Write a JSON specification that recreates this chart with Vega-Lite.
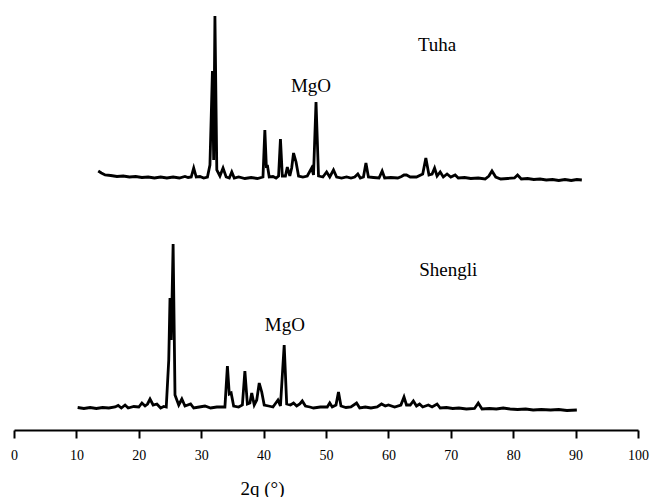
{
  "$schema": "https://vega.github.io/schema/vega-lite/v6.json",
  "width": 624,
  "height": 430,
  "autosize": {"type": "none"},
  "padding": {"left": 14, "top": 0, "right": 15, "bottom": 67},
  "background": "white",
  "config": {"view": {"stroke": null}},
  "layer": [
    {
      "data": {"values": [
        {"s":"Tuha","t":13.5,"v":259},{"s":"Tuha","t":14.0,"v":257},{"s":"Tuha","t":14.6,"v":255},{"s":"Tuha","t":15.5,"v":254.5},{"s":"Tuha","t":16.5,"v":253.5},{"s":"Tuha","t":17.5,"v":254},{"s":"Tuha","t":18.5,"v":253},{"s":"Tuha","t":19.5,"v":253.5},{"s":"Tuha","t":20.5,"v":252.5},{"s":"Tuha","t":21.5,"v":253},{"s":"Tuha","t":22.5,"v":252},{"s":"Tuha","t":23.5,"v":253},{"s":"Tuha","t":24.5,"v":252},{"s":"Tuha","t":25.5,"v":253},{"s":"Tuha","t":26.5,"v":252},{"s":"Tuha","t":27.4,"v":253.5},{"s":"Tuha","t":27.9,"v":252.5},
        {"s":"Tuha","t":28.4,"v":253},{"s":"Tuha","t":28.8,"v":262},{"s":"Tuha","t":29.2,"v":253},{"s":"Tuha","t":29.8,"v":253.5},{"s":"Tuha","t":30.4,"v":252},{"s":"Tuha","t":31.0,"v":253},{"s":"Tuha","t":31.4,"v":265},{"s":"Tuha","t":31.8,"v":359},{"s":"Tuha","t":32.0,"v":270},{"s":"Tuha","t":32.2,"v":414},{"s":"Tuha","t":32.5,"v":260},{"s":"Tuha","t":33.0,"v":254},{"s":"Tuha","t":33.5,"v":262},{"s":"Tuha","t":34.0,"v":253},{"s":"Tuha","t":34.5,"v":252},{"s":"Tuha","t":34.9,"v":258},{"s":"Tuha","t":35.3,"v":252},{"s":"Tuha","t":36.0,"v":253},{"s":"Tuha","t":37,"v":251.5},{"s":"Tuha","t":38.0,"v":252.5},{"s":"Tuha","t":39.0,"v":251.5},
        {"s":"Tuha","t":39.9,"v":253},{"s":"Tuha","t":40.2,"v":300},{"s":"Tuha","t":40.45,"v":262},{"s":"Tuha","t":40.6,"v":265},{"s":"Tuha","t":40.9,"v":253},{"s":"Tuha","t":41.5,"v":253.5},{"s":"Tuha","t":42.0,"v":252},{"s":"Tuha","t":42.4,"v":254},{"s":"Tuha","t":42.7,"v":291},{"s":"Tuha","t":43.0,"v":254},{"s":"Tuha","t":43.5,"v":254},{"s":"Tuha","t":43.8,"v":263},{"s":"Tuha","t":44.2,"v":254},{"s":"Tuha","t":44.5,"v":262},{"s":"Tuha","t":44.8,"v":277},{"s":"Tuha","t":45.2,"v":268},{"s":"Tuha","t":45.6,"v":254},{"s":"Tuha","t":46.3,"v":253},{"s":"Tuha","t":47.0,"v":254},{"s":"Tuha","t":47.7,"v":262},{"s":"Tuha","t":48.0,"v":255},{"s":"Tuha","t":48.4,"v":328},{"s":"Tuha","t":48.8,"v":254},{"s":"Tuha","t":49.5,"v":253},{"s":"Tuha","t":50.1,"v":258},{"s":"Tuha","t":50.6,"v":253},{"s":"Tuha","t":51.2,"v":260},{"s":"Tuha","t":51.7,"v":253},{"s":"Tuha","t":52.5,"v":252},{"s":"Tuha","t":53.3,"v":253},{"s":"Tuha","t":54,"v":252},{"s":"Tuha","t":54.6,"v":253},{"s":"Tuha","t":55.1,"v":256},{"s":"Tuha","t":55.5,"v":252},{"s":"Tuha","t":56.0,"v":253},{"s":"Tuha","t":56.4,"v":267},{"s":"Tuha","t":56.8,"v":253},{"s":"Tuha","t":57.6,"v":252.5},{"s":"Tuha","t":58.5,"v":252},{"s":"Tuha","t":59.0,"v":259},{"s":"Tuha","t":59.4,"v":252},{"s":"Tuha","t":60.4,"v":252.5},{"s":"Tuha","t":61.5,"v":252},{"s":"Tuha","t":62.1,"v":253.5},{"s":"Tuha","t":62.5,"v":255},{"s":"Tuha","t":62.9,"v":255},{"s":"Tuha","t":63.5,"v":253},{"s":"Tuha","t":64.5,"v":253},{"s":"Tuha","t":65.5,"v":256},{"s":"Tuha","t":66.0,"v":272},{"s":"Tuha","t":66.5,"v":255},{"s":"Tuha","t":67.0,"v":256},{"s":"Tuha","t":67.4,"v":262},{"s":"Tuha","t":67.8,"v":254},{"s":"Tuha","t":68.3,"v":258},{"s":"Tuha","t":68.8,"v":253},{"s":"Tuha","t":69.4,"v":256},{"s":"Tuha","t":70.0,"v":253},{"s":"Tuha","t":70.7,"v":255},{"s":"Tuha","t":71.2,"v":252},{"s":"Tuha","t":72.2,"v":252.5},{"s":"Tuha","t":73.2,"v":251.5},{"s":"Tuha","t":74.4,"v":252},{"s":"Tuha","t":75.5,"v":251},{"s":"Tuha","t":76.1,"v":254},{"s":"Tuha","t":76.6,"v":259},{"s":"Tuha","t":77.2,"v":253},{"s":"Tuha","t":78,"v":251},{"s":"Tuha","t":79.1,"v":251.5},{"s":"Tuha","t":80.2,"v":252},{"s":"Tuha","t":80.7,"v":255},{"s":"Tuha","t":81.3,"v":251},{"s":"Tuha","t":82.3,"v":251.5},{"s":"Tuha","t":83.3,"v":250.5},{"s":"Tuha","t":84.3,"v":251},{"s":"Tuha","t":85.3,"v":250},{"s":"Tuha","t":86.3,"v":250.5},{"s":"Tuha","t":87.3,"v":249.5},{"s":"Tuha","t":88.3,"v":250.5},{"s":"Tuha","t":89.3,"v":249.5},{"s":"Tuha","t":90.2,"v":250.5},{"s":"Tuha","t":91,"v":250},
        {"s":"Shengli","t":10.2,"v":22.5},{"s":"Shengli","t":11.2,"v":21.5},{"s":"Shengli","t":12.2,"v":22.5},{"s":"Shengli","t":13.2,"v":21.5},{"s":"Shengli","t":14.2,"v":22.5},{"s":"Shengli","t":15.2,"v":22},{"s":"Shengli","t":16.2,"v":23},{"s":"Shengli","t":16.7,"v":24.5},{"s":"Shengli","t":17.2,"v":22},{"s":"Shengli","t":17.8,"v":25},{"s":"Shengli","t":18.3,"v":22},{"s":"Shengli","t":19.2,"v":23.5},{"s":"Shengli","t":20.0,"v":23},{"s":"Shengli","t":20.5,"v":27},{"s":"Shengli","t":21.0,"v":24},{"s":"Shengli","t":21.4,"v":26},{"s":"Shengli","t":21.8,"v":31},{"s":"Shengli","t":22.3,"v":25},{"s":"Shengli","t":22.9,"v":26},{"s":"Shengli","t":23.5,"v":22},{"s":"Shengli","t":24.0,"v":23.5},{"s":"Shengli","t":24.4,"v":23},{"s":"Shengli","t":24.8,"v":70},{"s":"Shengli","t":25.0,"v":132},{"s":"Shengli","t":25.2,"v":90},{"s":"Shengli","t":25.5,"v":186},{"s":"Shengli","t":25.8,"v":35},{"s":"Shengli","t":26.4,"v":25},{"s":"Shengli","t":26.9,"v":31},{"s":"Shengli","t":27.4,"v":24},{"s":"Shengli","t":28.3,"v":26},{"s":"Shengli","t":28.8,"v":22},{"s":"Shengli","t":29.7,"v":23},{"s":"Shengli","t":30.6,"v":24},{"s":"Shengli","t":31.5,"v":22},{"s":"Shengli","t":32.5,"v":23},{"s":"Shengli","t":33.8,"v":23},{"s":"Shengli","t":34.2,"v":64},{"s":"Shengli","t":34.5,"v":36},{"s":"Shengli","t":34.8,"v":37},{"s":"Shengli","t":35.2,"v":24},{"s":"Shengli","t":36.0,"v":23},{"s":"Shengli","t":36.6,"v":25},{"s":"Shengli","t":37.0,"v":59},{"s":"Shengli","t":37.4,"v":26},{"s":"Shengli","t":37.8,"v":27},{"s":"Shengli","t":38.1,"v":37},{"s":"Shengli","t":38.5,"v":25},{"s":"Shengli","t":38.9,"v":30},{"s":"Shengli","t":39.3,"v":47},{"s":"Shengli","t":39.7,"v":38},{"s":"Shengli","t":40.1,"v":25},{"s":"Shengli","t":40.8,"v":24},{"s":"Shengli","t":41.5,"v":23},{"s":"Shengli","t":42.3,"v":30},{"s":"Shengli","t":42.7,"v":24},{"s":"Shengli","t":43.3,"v":85},{"s":"Shengli","t":43.7,"v":26},{"s":"Shengli","t":44.3,"v":25},{"s":"Shengli","t":44.8,"v":27},{"s":"Shengli","t":45.3,"v":24},{"s":"Shengli","t":45.8,"v":26},{"s":"Shengli","t":46.2,"v":29},{"s":"Shengli","t":46.7,"v":24},{"s":"Shengli","t":47.4,"v":23},{"s":"Shengli","t":48,"v":22},{"s":"Shengli","t":49.1,"v":23},{"s":"Shengli","t":50.2,"v":23},{"s":"Shengli","t":50.6,"v":27},{"s":"Shengli","t":51.0,"v":23},{"s":"Shengli","t":51.6,"v":25},{"s":"Shengli","t":52.0,"v":38},{"s":"Shengli","t":52.4,"v":24},{"s":"Shengli","t":53.2,"v":22.5},{"s":"Shengli","t":54,"v":23},{"s":"Shengli","t":54.9,"v":27},{"s":"Shengli","t":55.4,"v":22},{"s":"Shengli","t":56.3,"v":23},{"s":"Shengli","t":57.2,"v":22},{"s":"Shengli","t":58.2,"v":23},{"s":"Shengli","t":58.9,"v":26},{"s":"Shengli","t":59.5,"v":24},{"s":"Shengli","t":60.0,"v":25},{"s":"Shengli","t":61,"v":23},{"s":"Shengli","t":62.0,"v":25},{"s":"Shengli","t":62.5,"v":33},{"s":"Shengli","t":62.9,"v":25},{"s":"Shengli","t":63.5,"v":25},{"s":"Shengli","t":64.0,"v":29},{"s":"Shengli","t":64.5,"v":24},{"s":"Shengli","t":65.0,"v":26},{"s":"Shengli","t":65.5,"v":23},{"s":"Shengli","t":66.4,"v":25},{"s":"Shengli","t":67.0,"v":23},{"s":"Shengli","t":67.8,"v":26},{"s":"Shengli","t":68.3,"v":22},{"s":"Shengli","t":69.3,"v":22.5},{"s":"Shengli","t":70.3,"v":21.5},{"s":"Shengli","t":71.3,"v":22},{"s":"Shengli","t":72.5,"v":21},{"s":"Shengli","t":73.8,"v":21.5},{"s":"Shengli","t":74.4,"v":27},{"s":"Shengli","t":75.0,"v":21},{"s":"Shengli","t":76.2,"v":21.5},{"s":"Shengli","t":77.3,"v":21},{"s":"Shengli","t":78.4,"v":22},{"s":"Shengli","t":79.5,"v":21},{"s":"Shengli","t":80.7,"v":20.5},{"s":"Shengli","t":82,"v":21},{"s":"Shengli","t":83.2,"v":20},{"s":"Shengli","t":84.5,"v":20.5},{"s":"Shengli","t":86,"v":20},{"s":"Shengli","t":87.3,"v":20.5},{"s":"Shengli","t":88.6,"v":19.5},{"s":"Shengli","t":90.2,"v":20}
      ]},
      "mark": {"type": "line", "color": "black", "strokeWidth": 2.8, "strokeJoin": "miter"},
      "encoding": {
        "x": {"field": "t", "type": "quantitative", "scale": {"domain": [0, 100], "nice": false},
          "axis": {"values": [0,10,20,30,40,50,60,70,80,90,100], "grid": false, "domainColor": "black", "domainWidth": 2, "tickColor": "black", "tickWidth": 2, "tickSize": 8,
            "labelFont": "Liberation Serif, Times New Roman, DejaVu Serif, serif", "labelFontSize": 14, "labelColor": "black", "labelPadding": 10, "labelFlush": false,
            "title": "2q (°)", "titleFont": "Liberation Serif, Times New Roman, DejaVu Serif, serif", "titleFontSize": 19, "titleFontWeight": "normal", "titleColor": "black", "titleX": 248, "titleY": 64, "titleBaseline": "alphabetic", "titleAlign": "center"}},
        "y": {"field": "v", "type": "quantitative", "scale": {"domain": [0, 430], "nice": false}, "axis": null},
        "detail": {"field": "s"}
      }
    },
    {
      "data": {"values": [
        {"label": "Tuha", "t": 67.8, "v": 385},
        {"label": "MgO", "t": 47.6, "v": 344},
        {"label": "Shengli", "t": 69.6, "v": 160},
        {"label": "MgO", "t": 43.4, "v": 105}
      ]},
      "mark": {"type": "text", "font": "Liberation Serif, Times New Roman, DejaVu Serif, serif", "fontSize": 19, "color": "black", "baseline": "middle", "align": "center"},
      "encoding": {
        "x": {"field": "t", "type": "quantitative"},
        "y": {"field": "v", "type": "quantitative"},
        "text": {"field": "label"}
      }
    }
  ]
}
